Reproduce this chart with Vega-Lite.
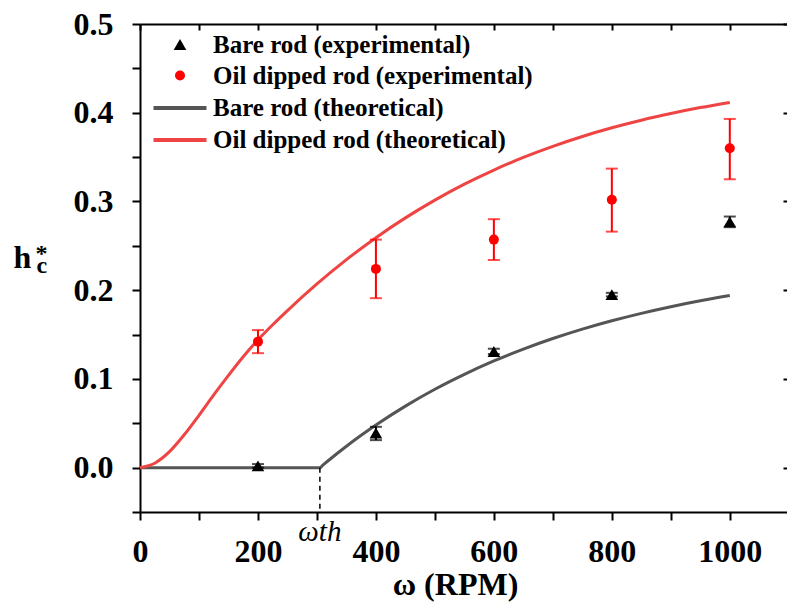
{
  "$schema": "https://vega.github.io/schema/vega-lite/v6.json",
  "autosize": {"type": "none"},
  "padding": {"left": 140, "top": 24, "right": 0, "bottom": 95},
  "width": 647,
  "height": 488,
  "background": "white",
  "config": {
    "view": {"stroke": null},
    "axis": {
      "domainColor": "black", "domainWidth": 2, "tickColor": "black", "tickWidth": 2,
      "labelColor": "black", "titleColor": "black",
      "labelFont": "Liberation Serif", "titleFont": "Liberation Serif",
      "labelFontWeight": "bold", "titleFontWeight": "bold",
      "labelFontSize": 32, "titleFontSize": 32,
      "grid": false, "labelFlush": false, "labelOverlap": false
    },
    "legend": {
      "labelFont": "Liberation Serif", "labelFontWeight": "bold", "labelFontSize": 25,
      "labelColor": "black", "labelLimit": 600, "labelOffset": 19, "rowPadding": 5,
      "padding": 0
    }
  },
  "datasets": {
    "theory": [
      {"x": 0, "y": 0, "series": "Bare rod (theoretical)"},
      {"x": 100, "y": 0, "series": "Bare rod (theoretical)"},
      {"x": 200, "y": 0, "series": "Bare rod (theoretical)"},
      {"x": 305, "y": 0, "series": "Bare rod (theoretical)"},
      {"x": 310, "y": 0.0028, "series": "Bare rod (theoretical)"},
      {"x": 320, "y": 0.0083, "series": "Bare rod (theoretical)"},
      {"x": 350, "y": 0.0241, "series": "Bare rod (theoretical)"},
      {"x": 375, "y": 0.0364, "series": "Bare rod (theoretical)"},
      {"x": 400, "y": 0.048, "series": "Bare rod (theoretical)"},
      {"x": 450, "y": 0.0693, "series": "Bare rod (theoretical)"},
      {"x": 500, "y": 0.0883, "series": "Bare rod (theoretical)"},
      {"x": 550, "y": 0.1051, "series": "Bare rod (theoretical)"},
      {"x": 600, "y": 0.1202, "series": "Bare rod (theoretical)"},
      {"x": 650, "y": 0.1336, "series": "Bare rod (theoretical)"},
      {"x": 700, "y": 0.1455, "series": "Bare rod (theoretical)"},
      {"x": 750, "y": 0.1561, "series": "Bare rod (theoretical)"},
      {"x": 800, "y": 0.1655, "series": "Bare rod (theoretical)"},
      {"x": 850, "y": 0.1739, "series": "Bare rod (theoretical)"},
      {"x": 900, "y": 0.1814, "series": "Bare rod (theoretical)"},
      {"x": 950, "y": 0.1881, "series": "Bare rod (theoretical)"},
      {"x": 1000, "y": 0.194, "series": "Bare rod (theoretical)"},
      {"x": 0, "y": 0, "series": "Oil dipped rod (theoretical)"},
      {"x": 25, "y": 0.005, "series": "Oil dipped rod (theoretical)"},
      {"x": 50, "y": 0.018, "series": "Oil dipped rod (theoretical)"},
      {"x": 75, "y": 0.037, "series": "Oil dipped rod (theoretical)"},
      {"x": 100, "y": 0.059, "series": "Oil dipped rod (theoretical)"},
      {"x": 125, "y": 0.082, "series": "Oil dipped rod (theoretical)"},
      {"x": 150, "y": 0.104, "series": "Oil dipped rod (theoretical)"},
      {"x": 175, "y": 0.125, "series": "Oil dipped rod (theoretical)"},
      {"x": 200, "y": 0.144, "series": "Oil dipped rod (theoretical)"},
      {"x": 225, "y": 0.161, "series": "Oil dipped rod (theoretical)"},
      {"x": 250, "y": 0.177, "series": "Oil dipped rod (theoretical)"},
      {"x": 300, "y": 0.207, "series": "Oil dipped rod (theoretical)"},
      {"x": 350, "y": 0.2344, "series": "Oil dipped rod (theoretical)"},
      {"x": 400, "y": 0.2592, "series": "Oil dipped rod (theoretical)"},
      {"x": 450, "y": 0.2815, "series": "Oil dipped rod (theoretical)"},
      {"x": 500, "y": 0.3015, "series": "Oil dipped rod (theoretical)"},
      {"x": 550, "y": 0.3195, "series": "Oil dipped rod (theoretical)"},
      {"x": 600, "y": 0.3354, "series": "Oil dipped rod (theoretical)"},
      {"x": 650, "y": 0.3496, "series": "Oil dipped rod (theoretical)"},
      {"x": 700, "y": 0.3621, "series": "Oil dipped rod (theoretical)"},
      {"x": 750, "y": 0.3732, "series": "Oil dipped rod (theoretical)"},
      {"x": 800, "y": 0.383, "series": "Oil dipped rod (theoretical)"},
      {"x": 850, "y": 0.3916, "series": "Oil dipped rod (theoretical)"},
      {"x": 900, "y": 0.3991, "series": "Oil dipped rod (theoretical)"},
      {"x": 950, "y": 0.4058, "series": "Oil dipped rod (theoretical)"},
      {"x": 1000, "y": 0.4116, "series": "Oil dipped rod (theoretical)"}
    ],
    "exp": [
      {"x": 200, "y": 0.002, "lo": 0.0, "hi": 0.004, "series": "Bare rod (experimental)"},
      {"x": 400, "y": 0.039, "lo": 0.031, "hi": 0.046, "series": "Bare rod (experimental)"},
      {"x": 600, "y": 0.131, "lo": 0.128, "hi": 0.134, "series": "Bare rod (experimental)"},
      {"x": 800, "y": 0.195, "lo": 0.193, "hi": 0.197, "series": "Bare rod (experimental)"},
      {"x": 1000, "y": 0.277, "lo": 0.271, "hi": 0.283, "series": "Bare rod (experimental)"},
      {"x": 200, "y": 0.142, "lo": 0.129, "hi": 0.155, "series": "Oil dipped rod (experimental)"},
      {"x": 400, "y": 0.224, "lo": 0.191, "hi": 0.257, "series": "Oil dipped rod (experimental)"},
      {"x": 600, "y": 0.257, "lo": 0.234, "hi": 0.28, "series": "Oil dipped rod (experimental)"},
      {"x": 800, "y": 0.302, "lo": 0.266, "hi": 0.337, "series": "Oil dipped rod (experimental)"},
      {"x": 1000, "y": 0.36, "lo": 0.325, "hi": 0.393, "series": "Oil dipped rod (experimental)"}
    ],
    "ann": [
      {"x": 305, "y": 0, "y2": -0.05, "label": "ωth"}
    ]
  },
  "resolve": {"axis": {"x": "independent", "y": "independent"}},
  "layer": [
    {
      "data": {"name": "theory"},
      "mark": {"type": "line", "strokeWidth": 3, "interpolate": "monotone"},
      "encoding": {
        "x": {"field": "x", "type": "quantitative",
          "scale": {"domain": [0, 1097], "nice": false, "zero": false},
          "axis": {"orient": "bottom", "values": [0,100,200,300,400,500,600,700,800,900,1000],
            "labelExpr": "datum.value % 200 == 0 ? format(datum.value, 'd') : ''",
            "tickSize": 8, "labelPadding": 16, "title": "ω (RPM)",
            "titleX": 315, "titleY": 82, "titleBaseline": "alphabetic", "titleAnchor": null}},
        "y": {"field": "y", "type": "quantitative",
          "scale": {"domain": [-0.05, 0.5], "nice": false, "zero": false},
          "axis": {"orient": "left", "values": [-0.05,0,0.05,0.1,0.15,0.2,0.25,0.3,0.35,0.4,0.45,0.5],
            "labelExpr": "round(datum.value*20) % 2 == 0 ? format(datum.value, '.1f') : ''",
            "tickSize": 8, "labelPadding": 19, "title": "h",
            "titleAngle": 0, "titleAlign": "left", "titleBaseline": "alphabetic",
            "titleX": -127, "titleY": 243}},
        "stroke": {"field": "series", "type": "nominal",
          "scale": {"domain": ["Bare rod (theoretical)", "Oil dipped rod (theoretical)", "Bare rod (experimental)", "Oil dipped rod (experimental)"],
            "range": ["#555555", "#ef4444", "#000000", "#ff0000"]},
          "legend": null},
        "detail": {"field": "series"}
      }
    },
    {
      "data": {"name": "exp"},
      "mark": {"type": "rule", "strokeWidth": 2},
      "encoding": {
        "x": {"field": "x", "type": "quantitative",
          "scale": {"domain": [0, 1097], "nice": false, "zero": false},
          "axis": {"orient": "top", "values": [0,100,200,300,400,500,600,700,800,900,1000],
            "labels": false, "tickSize": -6, "title": null}},
        "y": {"field": "lo", "type": "quantitative",
          "scale": {"domain": [-0.05, 0.5], "nice": false, "zero": false},
          "axis": {"orient": "right", "values": [0,0.1,0.2,0.3,0.4,0.5],
            "labels": false, "tickSize": -6, "title": null, "offset": 2}},
        "y2": {"field": "hi"},
        "stroke": {"field": "series", "type": "nominal", "legend": null}
      }
    },
    {
      "data": {"name": "exp"},
      "mark": {"type": "tick", "orient": "horizontal", "size": 12, "thickness": 2},
      "encoding": {
        "x": {"field": "x", "type": "quantitative", "axis": null},
        "y": {"field": "lo", "type": "quantitative", "axis": null},
        "fill": {"field": "series", "type": "nominal",
          "scale": {"domain": ["Bare rod (experimental)", "Oil dipped rod (experimental)"], "range": ["#000000", "#ff0000"]},
          "legend": null}
      }
    },
    {
      "data": {"name": "exp"},
      "mark": {"type": "tick", "orient": "horizontal", "size": 12, "thickness": 2},
      "encoding": {
        "x": {"field": "x", "type": "quantitative", "axis": null},
        "y": {"field": "hi", "type": "quantitative", "axis": null},
        "fill": {"field": "series", "type": "nominal", "legend": null}
      }
    },
    {
      "data": {"name": "exp"},
      "mark": {"type": "point", "filled": true, "opacity": 1, "strokeWidth": 0},
      "encoding": {
        "x": {"field": "x", "type": "quantitative", "axis": null},
        "y": {"field": "y", "type": "quantitative",
          "axis": {"orient": "left", "domain": false, "ticks": false, "labels": false,
            "title": "*", "titleFontSize": 24, "titleAngle": 0, "titleAlign": "left",
            "titleBaseline": "alphabetic", "titleX": -105, "titleY": 236}},
        "color": {"field": "series", "type": "nominal",
          "scale": {"domain": ["Bare rod (experimental)", "Oil dipped rod (experimental)", "Bare rod (theoretical)", "Oil dipped rod (theoretical)"],
            "range": ["#000000", "#ff0000", "#555555", "#ef4444"]},
          "legend": {"title": null, "orient": "none", "legendX": 26, "legendY": 8}},
        "shape": {"field": "series", "type": "nominal",
          "scale": {"domain": ["Bare rod (experimental)", "Oil dipped rod (experimental)", "Bare rod (theoretical)", "Oil dipped rod (theoretical)"],
            "range": ["triangle-up", "circle", "M-2,-0.15H2V0.15H-2Z", "M-2,-0.15H2V0.15H-2Z"]},
          "legend": {"title": null, "orient": "none", "legendX": 26, "legendY": 8}},
        "size": {"field": "series", "type": "nominal",
          "scale": {"type": "ordinal", "domain": ["Bare rod (experimental)", "Oil dipped rod (experimental)", "Bare rod (theoretical)", "Oil dipped rod (theoretical)"],
            "range": [160, 100, 702, 702]},
          "legend": {"title": null, "orient": "none", "legendX": 26, "legendY": 8}}
      }
    },
    {
      "data": {"name": "ann"},
      "mark": {"type": "rule", "strokeDash": [5, 4], "strokeWidth": 1.5, "color": "black"},
      "encoding": {
        "x": {"field": "x", "type": "quantitative", "axis": null},
        "y": {"field": "y", "type": "quantitative",
          "axis": {"orient": "left", "domain": false, "ticks": false, "labels": false,
            "title": "c", "titleFontSize": 24, "titleAngle": 0, "titleAlign": "left",
            "titleBaseline": "alphabetic", "titleX": -104, "titleY": 248}},
        "y2": {"field": "y2"}
      }
    },
    {
      "data": {"name": "ann"},
      "mark": {"type": "text", "font": "Liberation Serif", "fontStyle": "italic", "fontSize": 29,
        "baseline": "middle", "align": "center", "dy": 20, "color": "black"},
      "encoding": {
        "x": {"field": "x", "type": "quantitative", "axis": null},
        "y": {"field": "y2", "type": "quantitative", "axis": null},
        "text": {"field": "label"}
      }
    }
  ]
}
